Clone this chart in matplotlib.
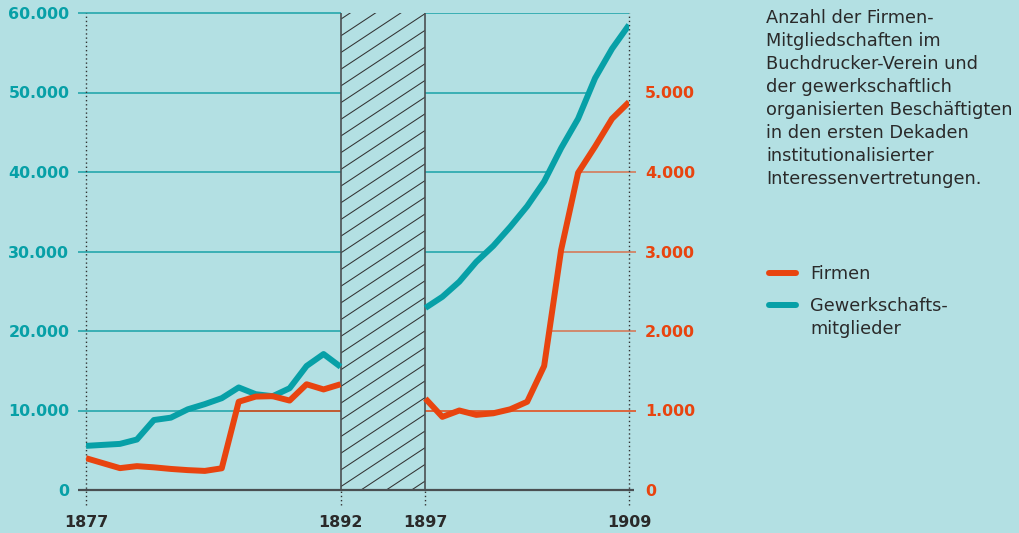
import numpy as np
import matplotlib
matplotlib.use("Agg")
import matplotlib.pyplot as plt
from matplotlib.patches import Rectangle
from matplotlib.lines import Line2D

# data
years_a = [1877, 1879, 1880, 1881, 1882, 1883, 1884, 1885, 1886, 1887, 1888, 1889, 1890, 1891, 1892]
gewerk_a = [5550, 5800, 6350, 8800, 9100, 10150, 10800, 11550, 12900, 12050, 11800, 12800, 15600, 17100, 15500]
firmen_a = [400, 275, 300, 285, 265, 250, 240, 273, 1110, 1175, 1180, 1125, 1330, 1265, 1330]

years_b = [1897, 1898, 1899, 1900, 1901, 1902, 1903, 1904, 1905, 1906, 1907, 1908, 1909]
gewerk_b = [22900, 24300, 26200, 28700, 30700, 33100, 35700, 38800, 43000, 46700, 51800, 55500, 58500]
firmen_b = [1150, 920, 1000, 945, 965, 1015, 1110, 1560, 3020, 3990, 4320, 4670, 4880]

left_ticks = [0, 10000, 20000, 30000, 40000, 50000, 60000]
left_labels = ["0", "10.000", "20.000", "30.000", "40.000", "50.000", "60.000"]
right_ticks = [0, 1000, 2000, 3000, 4000, 5000]
right_labels = ["0", "1.000", "2.000", "3.000", "4.000", "5.000"]
year_ticks = [1877, 1892, 1897, 1909]
gap = (1892, 1897)

legend_labels = ["Firmen", "Gewerkschafts-\nmitglieder"]
note = ("Anzahl der Firmen-\nMitgliedschaften im\nBuchdrucker-Verein und\n"
        "der gewerkschaftlich\norganisierten Beschäftigten\nin den ersten Dekaden\n"
        "institutionalisierter\nInteressenvertretungen.")

BG = "#b3e0e3"
TEAL = "#07a0a7"
TEAL_GRID = "#1aa2a8"
ORANGE = "#e8440f"
DARK = "#2a2a2a"
GRAY = "#4a4f52"

plt.rcParams["font.family"] = ["DejaVu Sans"]

W, H = 1019, 533
fig = plt.figure(figsize=(W / 100, H / 100), dpi=100, facecolor=BG)


def fx(px):
    return px / W


def fy(py):
    return 1 - py / H


# axes: 1877 -> x=86px, 1909 -> x=629px, 0 -> y=490px, 60000 -> y=13px
ax = fig.add_axes([fx(86), fy(490), fx(629) - fx(86), fy(13) - fy(490)])
ax.set_facecolor(BG)
ax.set_xlim(1877, 1909)
ax.set_ylim(0, 60000)
for s in ax.spines.values():
    s.set_visible(False)

ax2 = ax.twinx()
ax2.set_ylim(0, 6000)
for s in ax2.spines.values():
    s.set_visible(False)


def first_cross(xs, vs, level):
    # first x where series reaches level (linear between points)
    for i in range(len(xs)):
        if vs[i] >= level:
            if i == 0:
                return xs[0]
            return xs[i - 1] + (level - vs[i - 1]) / (vs[i] - vs[i - 1]) * (xs[i] - xs[i - 1])
    return None


x_lo, x_hi = 1876.53, 1909.41

# grid lines, left block
for lv in left_ticks[1:]:
    ax.hlines(lv, x_lo, gap[0], color=TEAL_GRID, lw=1.1, zorder=1, clip_on=False)
    c = first_cross(years_a, firmen_a, lv / 10)
    if c is not None:
        ax.hlines(lv, c, gap[0], color=ORANGE, lw=1.1, zorder=1.5)

# grid lines, right block
for lv in left_ticks[1:]:
    c = first_cross(years_b, gewerk_b, lv)
    end = years_b[-1] if c is None else c
    if end > gap[1]:
        ax.hlines(lv, gap[1], end, color=TEAL_GRID, lw=1.1, zorder=1)
    c = first_cross(years_b, firmen_b, lv / 10)
    if c is not None:
        a = 1.0 if lv == 10000 else 0.7
        ax.hlines(lv, c, x_hi, color=ORANGE, lw=1.1, alpha=a, zorder=1.5, clip_on=False)

# baseline
ax.hlines(0, x_lo, 1909.3, color=GRAY, lw=1.6, zorder=3, clip_on=False)

# hatched gap
rect = Rectangle((gap[0], 0), gap[1] - gap[0], 60000, facecolor="none", edgecolor="none")
ax.add_patch(rect)
slope = 1409  # units per year (about 33 degrees on screen)
for y0 in np.arange(-8000, 60000, 2100):
    ln, = ax.plot([gap[0], gap[1]], [y0, y0 + slope * (gap[1] - gap[0])], color="#333333", lw=0.75, zorder=2)
    ln.set_clip_path(rect)
ax.vlines(gap, 0, 60000, color=GRAY, lw=1.2, zorder=3)

# dotted year markers
dot = dict(color="#333333", lw=1.0, linestyle=(0, (1, 2)), zorder=2, clip_on=False)
ax.vlines([1877, 1909], -1900, 60000, **dot)
ax.vlines(gap, -1900, 0, **dot)

# series
ls = dict(lw=4.3, solid_capstyle="butt", solid_joinstyle="round", zorder=4)
ax.plot(years_a, gewerk_a, color=TEAL, **ls)
ax.plot(years_b, gewerk_b, color=TEAL, **ls)
ax2.plot(years_a, firmen_a, color=ORANGE, **ls)
ax2.plot(years_b, firmen_b, color=ORANGE, **ls)

# ticks
ax.set_yticks(left_ticks, left_labels)
ax.tick_params(axis="y", length=0, pad=12, labelsize=11.4, labelcolor=TEAL)
for t in ax.get_yticklabels():
    t.set_fontweight("bold")
ax2.set_yticks(right_ticks, right_labels)
ax2.tick_params(axis="y", length=0, pad=11.5, labelsize=11.4, labelcolor=ORANGE)
for t in ax2.get_yticklabels():
    t.set_fontweight("bold")
ax.set_xticks(year_ticks, [str(y) for y in year_ticks])
ax.tick_params(axis="x", length=0, pad=18, labelsize=11.4, labelcolor=DARK)
for t in ax.get_xticklabels():
    t.set_fontweight("bold")

# description
fig.text(fx(766), fy(9), note, ha="left", va="top", fontsize=12.8, color=DARK, linespacing=1.36)

# legend
for (ypx, col) in [(273, ORANGE), (305, TEAL)]:
    fig.add_artist(Line2D([fx(769), fx(796)], [fy(ypx), fy(ypx)], color=col, lw=4.3,
                          solid_capstyle="round", transform=fig.transFigure))
fig.text(fx(810), fy(265), legend_labels[0], ha="left", va="top", fontsize=12.8, color=DARK)
fig.text(fx(810), fy(297), legend_labels[1], ha="left", va="top", fontsize=12.8, color=DARK,
         linespacing=1.36)

fig.savefig("out.png", dpi=100, facecolor=BG)
